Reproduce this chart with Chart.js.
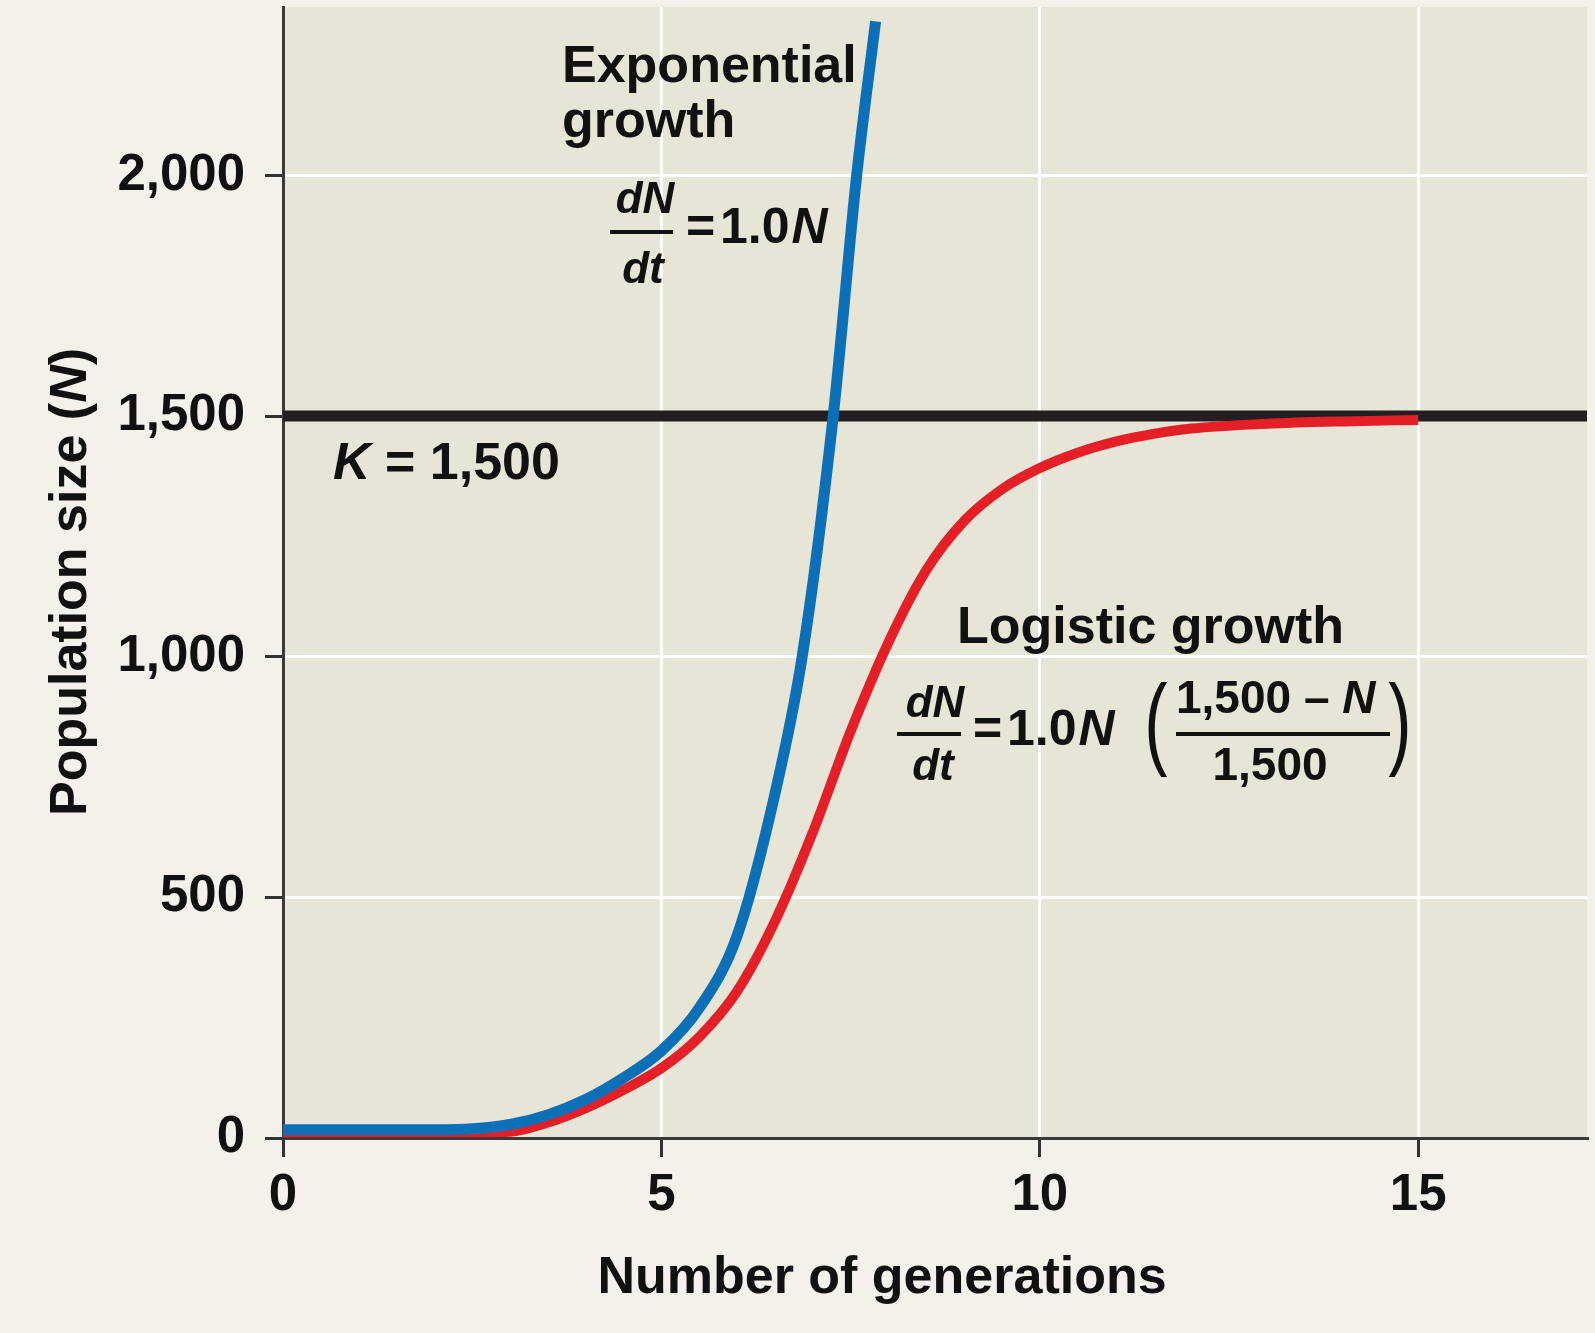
<!DOCTYPE html>
<html>
<head>
<meta charset="utf-8">
<title>Exponential and logistic growth</title>
<script src="https://cdn.jsdelivr.net/npm/chart.js@4.4.1/dist/chart.umd.min.js"></script>
<style>
  html, body { margin: 0; padding: 0; background: #f4f1eb; }
  #wrap { width: 1595px; height: 1333px; }
</style>
</head>
<body>
<div id="wrap"><canvas id="growthChart" width="1595" height="1333"></canvas></div>
<script>
// Values (generations -> population size N)
const expGenerations = [0, 1, 2, 2.5, 3, 3.5, 4, 4.5, 5, 5.5, 6, 6.5, 6.86, 7.27, 7.58, 7.83];
const expPopulation  = [17, 17, 17, 19, 28, 48, 80, 125, 181, 270, 420, 715, 1000, 1500, 2000, 2320];

const logGenerations = [0, 2.6, 3, 3.5, 4, 4.5, 5, 5.5, 6, 6.5, 7, 7.5, 8, 8.5, 9, 9.5, 10, 10.5, 11, 11.5, 12, 13, 14, 15];
const logPopulation  = [12, 12, 13, 32, 62, 100, 145, 210, 305, 450, 635, 845, 1030, 1180, 1282, 1348, 1392, 1424, 1447, 1463, 1474, 1484, 1489, 1492];

const carryingCapacity = 1500;
const xMax = 17.23;
const yMax = 2350;
const xTicks = [0, 5, 10, 15];
const yTicks = [0, 500, 1000, 1500, 2000];

const FONT = '"Liberation Sans", Arial, Helvetica, sans-serif';
const INK = '#111111';

const toPoints = (xs, ys) => xs.map((x, i) => ({ x: x, y: ys[i] }));

// draw a row of text pieces, some italic
function drawRuns(ctx, x, y, runs, size, align) {
    const fontFor = (italic) => (italic ? 'italic ' : '') + 'bold ' + size + 'px ' + FONT;
    let total = 0;
    runs.forEach(([t, it]) => { ctx.font = fontFor(it); total += ctx.measureText(t).width; });
    if (align === 'center') x -= total / 2;
    ctx.textAlign = 'left';
    runs.forEach(([t, it]) => {
        ctx.font = fontFor(it);
        ctx.fillText(t, x, y);
        x += ctx.measureText(t).width;
    });
    return x;
}

// "=1.0N" with the same spacing as the figure
function drawRate(ctx, x, y) {
    drawRuns(ctx, x, y, [['=', false]], 50);
    const end = drawRuns(ctx, x + 34, y, [['1.0', false]], 50);
    drawRuns(ctx, end + 2, y, [['N', true]], 50);
}

// tall thin bracket: a regular glyph stretched vertically
function drawParen(ctx, ch, cx, baseline) {
    ctx.save();
    ctx.font = 'normal 70px ' + FONT;
    ctx.textAlign = 'center';
    ctx.scale(1, 1.45);
    ctx.fillText(ch, cx, baseline / 1.45);
    ctx.restore();
}

const figurePlugin = {
    id: 'figure',
    beforeDraw(chart) {
        const { ctx, chartArea: a } = chart;
        ctx.save();
        ctx.fillStyle = '#f4f1eb';
        ctx.fillRect(0, 0, chart.width, chart.height);
        ctx.fillStyle = '#e7e5d6';
        ctx.fillRect(a.left, a.top, a.right - a.left, a.bottom - a.top);
        ctx.restore();
    },
    afterDraw(chart) {
        const ctx = chart.ctx;
        ctx.save();
        ctx.fillStyle = INK;
        ctx.textBaseline = 'alphabetic';

        // axis titles
        drawRuns(ctx, 882, 1293, [['Number of generations', false]], 52, 'center');
        ctx.save();
        ctx.translate(86, 582);
        ctx.rotate(-Math.PI / 2);
        drawRuns(ctx, 0, 0, [['Population size (', false], ['N', true], [')', false]], 52, 'center');
        ctx.restore();

        // exponential label + equation
        drawRuns(ctx, 562, 82, [['Exponential', false]], 52);
        drawRuns(ctx, 562, 137, [['growth', false]], 52);
        drawRuns(ctx, 645, 213, [['dN', true]], 44, 'center');
        ctx.fillRect(610, 230, 63, 4);
        drawRuns(ctx, 643, 283, [['dt', true]], 44, 'center');
        drawRate(ctx, 686, 243);

        // carrying capacity
        drawRuns(ctx, 333, 479, [['K', true], [' = 1,500', false]], 52);

        // logistic label + equation
        drawRuns(ctx, 957, 643, [['Logistic growth', false]], 52);
        drawRuns(ctx, 935, 717, [['dN', true]], 44, 'center');
        ctx.fillRect(897, 732, 64, 4);
        drawRuns(ctx, 933, 780, [['dt', true]], 44, 'center');
        drawRate(ctx, 973, 745);
        drawParen(ctx, '(', 1156, 756);
        drawParen(ctx, ')', 1400, 756);
        drawRuns(ctx, 1176, 713, [['1,500 \u2013 ', false], ['N', true]], 46);
        ctx.fillRect(1176, 732, 214, 4);
        drawRuns(ctx, 1270, 780, [['1,500', false]], 46, 'center');

        ctx.restore();
    }
};

new Chart(document.getElementById('growthChart'), {
    type: 'line',
    data: {
        datasets: [
            {
                label: 'Exponential growth',
                data: toPoints(expGenerations, expPopulation),
                borderColor: '#0c70b9',
                borderWidth: 11,
                cubicInterpolationMode: 'monotone',
                pointRadius: 0
            },
            {
                label: 'Logistic growth',
                data: toPoints(logGenerations, logPopulation),
                borderColor: '#e41f28',
                borderWidth: 10,
                cubicInterpolationMode: 'monotone',
                pointRadius: 0
            },
            {
                label: 'K = 1,500',
                data: toPoints([0, xMax], [carryingCapacity, carryingCapacity]),
                borderColor: '#231f20',
                borderWidth: 11,
                pointRadius: 0
            }
        ]
    },
    options: {
        responsive: false,
        animation: false,
        devicePixelRatio: 1,
        layout: { padding: { top: 7, right: 8, left: 0, bottom: 0 } },
        plugins: { legend: { display: false }, tooltip: { enabled: false } },
        scales: {
            x: {
                type: 'linear',
                min: 0,
                max: xMax,
                afterFit: (s) => { s.height = 195; s.paddingLeft = 0; s.paddingRight = 0; },
                afterBuildTicks: (s) => { s.ticks = xTicks.map(v => ({ value: v })); },
                ticks: {
                    includeBounds: false,
                    maxRotation: 0,
                    padding: 8,
                    color: INK,
                    font: { family: FONT, size: 51, weight: 'bold' }
                },
                grid: { color: '#ffffff', lineWidth: 3, tickColor: '#333333', tickLength: 19, tickWidth: 3 },
                border: { color: '#3a3a3a', width: 3 }
            },
            y: {
                min: 0,
                max: yMax,
                afterFit: (s) => { s.width = 283; s.paddingTop = 0; s.paddingBottom = 0; },
                afterBuildTicks: (s) => { s.ticks = yTicks.map(v => ({ value: v })); },
                ticks: {
                    includeBounds: false,
                    padding: 20,
                    color: INK,
                    font: { family: FONT, size: 51, weight: 'bold' },
                    callback: (v) => v.toLocaleString('en-US')
                },
                grid: { color: '#ffffff', lineWidth: 3, tickColor: '#333333', tickLength: 18, tickWidth: 3 },
                border: { color: '#3a3a3a', width: 3 }
            }
        }
    },
    plugins: [figurePlugin]
});
</script>
</body>
</html>
